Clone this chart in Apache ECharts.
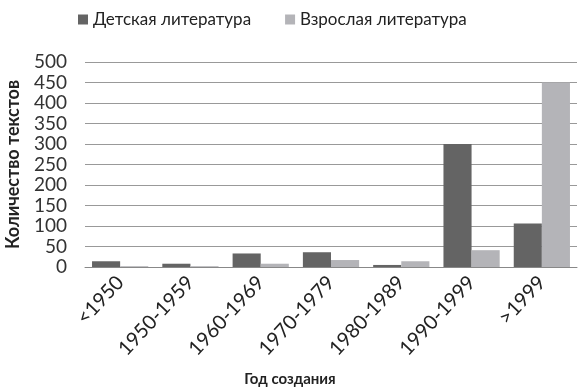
<!DOCTYPE html>
<html>
<head>
<meta charset="utf-8">
<script src="https://cdn.jsdelivr.net/npm/echarts@6/dist/echarts.min.js"></script>
<style>
  html, body { margin: 0; padding: 0; background: #fff; }
  #main { width: 580px; height: 390px; }
</style>
</head>
<body>
<div id="main"></div>
<script>
// периоды создания
var years = ['<1950', '1950-1959', '1960-1969', '1970-1979', '1980-1989', '1990-1999', '>1999'];
var kidsBooks = [14, 8, 33, 36, 5, 300, 106];
var adultBooks = [2, 2, 8, 17, 14, 41, 450];

var chart = echarts.init(document.getElementById('main'), null, { renderer: 'canvas' });

var option = {
  animation: false,
  textStyle: { fontFamily: 'Lato' },
  color: ['#646464', '#b4b4b8'],
  // подпись оси X по центру всей картинки
  title: {
    text: 'Год создания',
    left: 'center',
    top: 372,
    padding: 0,
    textStyle: { fontSize: 15, fontWeight: 'bold', color: '#222', fontFamily: 'Lato' }
  },
  legend: {
    top: 6,
    left: 73,
    itemWidth: 10,
    itemHeight: 10,
    itemGap: 34,
    icon: 'rect',
    textStyle: { fontSize: 17, color: '#222', fontFamily: 'Lato' },
    data: ['Детская литература', 'Взрослая литература']
  },
  grid: {
    left: 85,
    right: 3,
    top: 62,
    bottom: 123,
    outerBoundsMode: 'none'
  },
  xAxis: {
    type: 'category',
    data: years,
    axisTick: { show: false },
    axisLine: { lineStyle: { color: '#888' } },
    axisLabel: {
      rotate: 47,
      fontSize: 20,
      color: '#222',
      margin: 12,
      interval: 0
    }
  },
  yAxis: {
    type: 'value',
    min: 0,
    max: 500,
    interval: 50,
    name: 'Количество текстов',
    nameLocation: 'middle',
    nameGap: 63,
    nameTextStyle: { fontSize: 18, fontWeight: 'bold', color: '#222' },
    axisLine: { show: false },
    axisTick: { show: false },
    axisLabel: { fontSize: 19, color: '#333', margin: 18 },
    splitLine: { lineStyle: { color: '#999', width: 1 } }
  },
  series: [{
    name: 'Детская литература',
    type: 'bar',
    data: kidsBooks,
    barGap: '0%',
    barCategoryGap: '20%'
  }, {
    name: 'Взрослая литература',
    type: 'bar',
    data: adultBooks
  }]
};
chart.setOption(option);
</script>
</body>
</html>
